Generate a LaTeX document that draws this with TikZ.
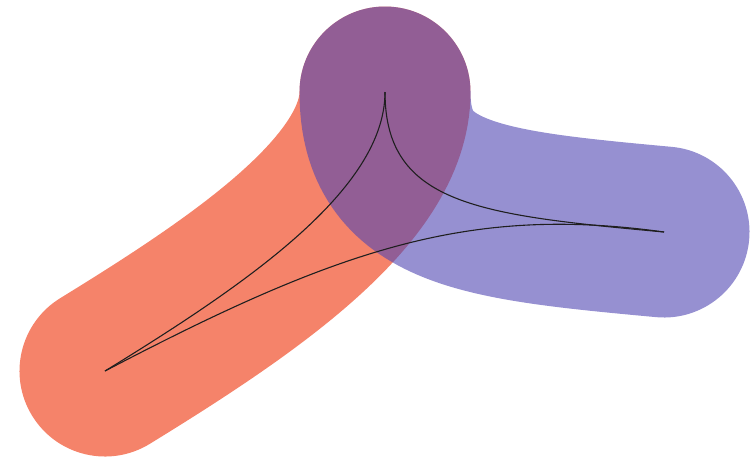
\documentclass[tikz,border=0pt]{standalone}
\usepackage{tikz}
\definecolor{bandorange}{RGB}{245,131,106}
\definecolor{bandblue}{RGB}{80,70,178}

\begin{document}
\begin{tikzpicture}[x=1pt, y=-1pt, band/.style = {line width=171pt, line cap=round}, orangeband/.style = {band, draw=bandorange}, blueband/.style = {band, draw=bandblue, draw opacity=0.6}, link/.style = {draw=black!88, line width=1.1pt}]
            \useasboundingbox (0,0) rectangle (754,467);
            \coordinate (A) at (105,371);
            \coordinate (B) at (385,92);
            \coordinate (C) at (664,232);

            \path[orangeband] (A) .. controls (245,285) and (385,190) .. (B);
            \path[blueband] (B) .. controls (385,205) and (480,215) .. (C);

            \path[link] (A) .. controls (245,285) and (385,190) .. (B);
            \path[link] (B) .. controls (385,205) and (480,215) .. (C);
            \path[link] (A) .. controls (340,248) and (470,205) .. (C);
        \end{tikzpicture}
\end{document}
